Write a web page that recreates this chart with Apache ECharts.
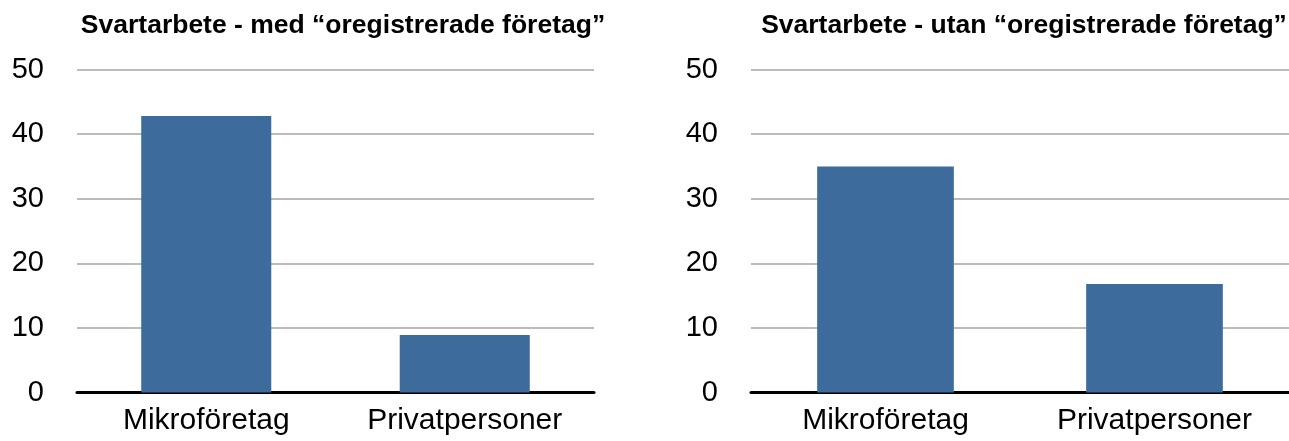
<!DOCTYPE html>
<html>
<head>
<meta charset="utf-8">
<script src="https://cdn.jsdelivr.net/npm/echarts@6/dist/echarts.min.js"></script>
<style>
  html, body { margin: 0; padding: 0; background: #ffffff; }
  #chart { width: 1289px; height: 441px; }
</style>
</head>
<body>
<div id="chart"></div>
<script>
const categories = ['Mikroföretag', 'Privatpersoner'];
const titleLeft = 'Svartarbete - med \u201coregistrerade företag\u201d';
const titleRight = 'Svartarbete - utan \u201coregistrerade företag\u201d';
const valuesWith = [42.8, 8.9];
const valuesWithout = [35.0, 16.8];
const yTicks = [0, 10, 20, 30, 40, 50];

const FONT = '"Liberation Sans", Arial, Helvetica, sans-serif';
const BAR = '#3D6B9C';

const chart = echarts.init(document.getElementById('chart'), null, { renderer: 'canvas' });

function xAxis(gridIndex) {
  return {
    type: 'category', gridIndex, data: categories,
    axisLine: { show: true, lineStyle: { color: '#000', width: 3 } },
    axisTick: { show: false },
    axisLabel: { color: '#000', fontSize: 30, fontFamily: FONT, margin: 13 },
    splitLine: { show: false }
  };
}
function yAxis(gridIndex) {
  return {
    type: 'value', gridIndex, min: yTicks[0], max: yTicks[yTicks.length - 1], interval: 10,
    axisLine: { show: false }, axisTick: { show: false },
    axisLabel: { color: '#000', fontSize: 29, fontFamily: FONT, margin: 33 },
    splitLine: { show: true, lineStyle: { color: '#BBBBBB', width: 2 } }
  };
}

chart.setOption({
  animation: false,
  title: [
    { text: titleLeft, left: 338, top: 7, textAlign: 'center',
      textStyle: { fontSize: 26.5, fontWeight: 'bold', color: '#000', fontFamily: FONT } },
    { text: titleRight, left: 1019, top: 7, textAlign: 'center',
      textStyle: { fontSize: 26.5, fontWeight: 'bold', color: '#000', fontFamily: FONT } }
  ],
  grid: [
    { left: 77, width: 517, top: 69.5, height: 323 },
    { left: 751, width: 544, top: 69.5, height: 323 }
  ],
  xAxis: [xAxis(0), xAxis(1)],
  yAxis: [yAxis(0), yAxis(1)],
  series: [
    { type: 'bar', xAxisIndex: 0, yAxisIndex: 0, data: valuesWith, barWidth: '50.3%',
      itemStyle: { color: BAR } },
    { type: 'bar', xAxisIndex: 1, yAxisIndex: 1, data: valuesWithout, barWidth: '50.8%',
      itemStyle: { color: BAR } }
  ]
});
</script>
</body>
</html>
